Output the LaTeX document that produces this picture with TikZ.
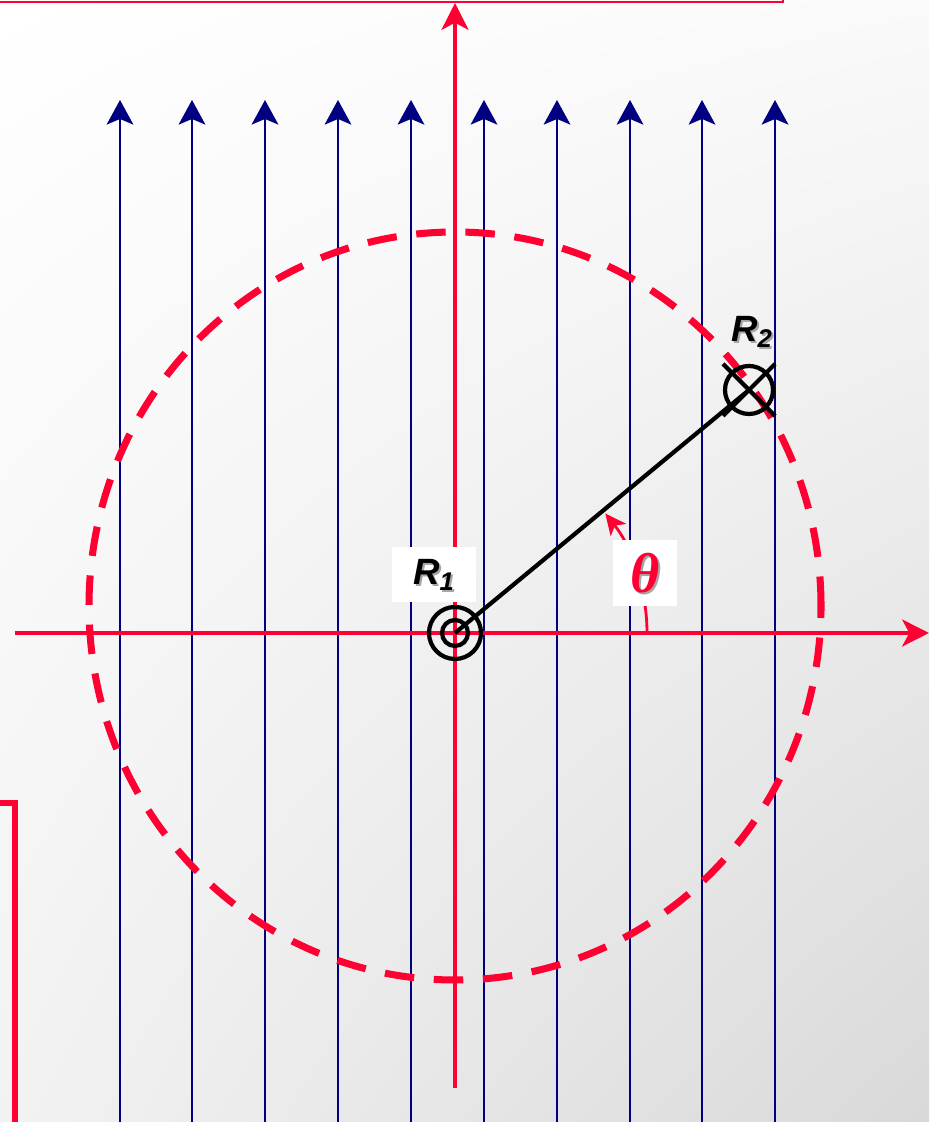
\documentclass[tikz,border=0pt]{standalone}
\usepackage{fontspec}
\setmainfont{Liberation Sans}
\newfontfamily\greekfont{Liberation Serif}
\usetikzlibrary{arrows.meta,positioning,shadings}

\definecolor{navy}{RGB}{0,0,128}
\definecolor{axisred}{RGB}{255,0,51}

\begin{document}
\begin{tikzpicture}[
    x=0.025cm, y=0.025cm,
    >=Stealth,
    every node/.style={align=center}
]

% Define styles
\tikzstyle{field} = [draw=navy, line width=1.4pt,
    -{Stealth[length=17.5pt, width=19pt, inset=4pt]}]
\tikzstyle{axis} = [draw=axisred, line width=3.2pt,
    -{Stealth[length=19pt, width=19pt, inset=5pt]}]
\tikzstyle{frame} = [draw=axisred, line width=2pt]
\tikzstyle{orbit} = [draw=axisred, line width=5pt, dash pattern=on 21pt off 14pt]
\tikzstyle{link} = [draw=black, line width=3pt]
\tikzstyle{ring} = [circle, draw=black, line width=3pt, inner sep=0pt]
\tikzstyle{labelbox} = [rectangle, fill=white, inner sep=0pt]
\tikzstyle{tag} = [font=\fontsize{26}{26}\selectfont\bfseries\itshape, inner sep=0pt]
\tikzstyle{angletag} = [font=\greekfont\fontsize{40}{40}\selectfont\bfseries\itshape, inner sep=0pt]
\tikzstyle{anglearc} = [draw=axisred, line width=2pt,
    -{Stealth[length=15pt, width=14pt, inset=4pt]}]

% Background
\useasboundingbox (0,0) rectangle (929,1122);
\clip (0,0) rectangle (929,1122);
\shade[upper left=white, upper right=black!2, lower left=black!5, lower right=black!15]
    (0,0) rectangle (929,1122);

% Frame edges
\draw[frame] (-5,1120) -| (783,1130);
\draw[frame, line width=4.2pt] (-5,319) -| (15,-5);

% Field lines
\foreach \x in {120,192,265,338,411,484,557,630,702,775}
    \draw[field] (\x,-5) -- (\x,1022);

% Dashed orbit
\draw[orbit] (455,516) ellipse [x radius=366, y radius=374];

% Axes
\coordinate (ybot) at (455,34);
\coordinate (ytop) at (455,1119);
\coordinate (xleft) at (15,489);
\coordinate (xright) at (929,489);
\draw[axis] (ybot) -- (ytop);
\draw[axis] (xleft) -- (xright);

% Points
\node [ring, minimum size=1.3cm] (r1) at (455,489) {};
\node [ring, minimum size=1.2cm] (r2) at (749,732) {};

% Angle
\draw[anglearc] ([shift={(0:192)}]r1.center) arc [start angle=0, end angle=38.5, radius=192];

% Label boxes
\node [labelbox, minimum width=2.1cm, minimum height=1.375cm] (r1box) at (434,547) {};
\node [labelbox, minimum width=1.6cm, minimum height=1.65cm] (thbox) at (645,549) {};
\coordinate (r2tag) at ([shift={(3,58)}]r2.center);

% Radius and markers
\path [link] (r1.center) -- (r2.center);
\draw[link] (r1.center) circle [radius=13];
\draw[link] ([shift={(-26,26)}]r2.center) -- ([shift={(26,-26)}]r2.center);
\draw[link] ([shift={(26,26)}]r2.center) -- ([shift={(-26,-26)}]r2.center);

% Labels
\node [tag, text=black!35] at ([shift={(1.8,-1.8)}]r1box.center) {R\textsubscript{1}};
\node [tag] at (r1box.center) {R\textsubscript{1}};
\node [tag, text=black!35] at ([shift={(1.8,-1.8)}]r2tag) {R\textsubscript{2}};
\node [tag] at (r2tag) {R\textsubscript{2}};
\node [angletag, text=black!35] at ([shift={(2.2,-2.2)}]thbox.center) {θ};
\node [angletag, text=axisred] at (thbox.center) {θ};

\end{tikzpicture}
\end{document}
